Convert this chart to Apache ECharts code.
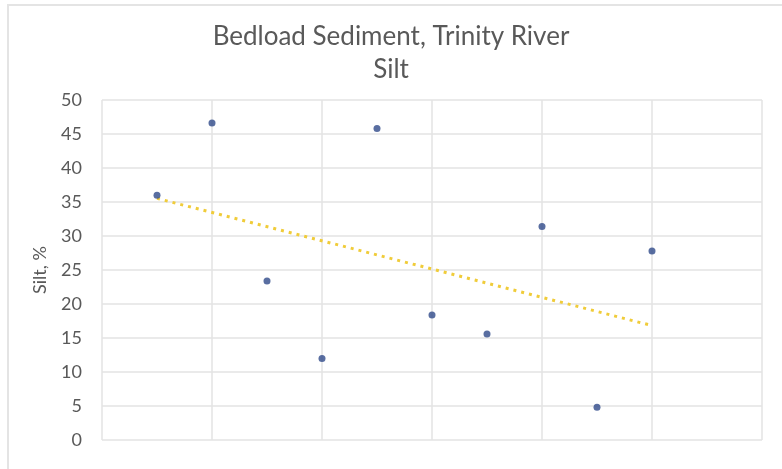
<!DOCTYPE html>
<html>
<head>
<meta charset="utf-8">
<title>Bedload Sediment, Trinity River — Silt</title>
<script src="https://cdn.jsdelivr.net/npm/echarts@6/dist/echarts.min.js"></script>
<style>
  html, body { margin: 0; padding: 0; background: #ffffff; }
  #chart { width: 782px; height: 469px; }
</style>
</head>
<body>
<div id="chart"></div>
<script>
// Sample sequence number along the river and measured silt share (%)
const sampleIndex = [1, 2, 3, 4, 5, 6, 7, 8, 9, 10];
const siltPercent = [36.0, 46.6, 23.4, 12.0, 45.8, 18.4, 15.6, 31.4, 4.8, 27.8];

// Axis ranges and tick steps
const yTicks = [0, 5, 10, 15, 20, 25, 30, 35, 40, 45, 50];
const xMin = 0, xMax = 12, xStep = 2;

// Least-squares linear trend through the samples
function linearFit(xs, ys) {
  const n = xs.length;
  const mx = xs.reduce((a, b) => a + b, 0) / n;
  const my = ys.reduce((a, b) => a + b, 0) / n;
  let sxy = 0, sxx = 0;
  for (let i = 0; i < n; i++) {
    sxy += (xs[i] - mx) * (ys[i] - my);
    sxx += (xs[i] - mx) * (xs[i] - mx);
  }
  const slope = sxy / sxx;
  return { slope, intercept: my - slope * mx };
}
const fit = linearFit(sampleIndex, siltPercent);
const xFirst = sampleIndex[0], xLast = sampleIndex[sampleIndex.length - 1];
const trendPoints = [
  [xFirst, fit.intercept + fit.slope * xFirst],
  [xLast, fit.intercept + fit.slope * xLast]
];

const textColor = '#595959';
const gridColor = '#e3e3e3';
const fontFamily = 'Lato, "Open Sans", sans-serif';

const chart = echarts.init(document.getElementById('chart'), null, { renderer: 'canvas' });
chart.setOption({
  animation: false,
  backgroundColor: '#ffffff',
  graphic: [{
    type: 'rect',
    shape: { x: 8, y: 5, width: 800, height: 500 },
    style: { fill: 'none', stroke: '#e4e4e4', lineWidth: 2 },
    silent: true
  }],
  title: [{
    text: 'Bedload Sediment, Trinity River',
    left: 'center',
    top: 19,
    textStyle: { color: textColor, fontSize: 26, fontWeight: 'normal', fontFamily }
  }, {
    text: 'Silt',
    left: 'center',
    top: 52,
    textStyle: { color: textColor, fontSize: 26, fontWeight: 'normal', fontFamily }
  }],
  grid: { left: 102, right: 20, top: 100, bottom: 29 },
  xAxis: {
    type: 'value',
    min: xMin,
    max: xMax,
    interval: xStep,
    axisLine: { show: false },
    axisTick: { show: false },
    axisLabel: { show: false },
    splitLine: { show: true, lineStyle: { color: gridColor, width: 1.5 } }
  },
  yAxis: {
    type: 'value',
    min: yTicks[0],
    max: yTicks[yTicks.length - 1],
    interval: yTicks[1] - yTicks[0],
    name: 'Silt, %',
    nameLocation: 'middle',
    nameGap: 53,
    nameTextStyle: { color: textColor, fontSize: 18, fontFamily },
    axisLine: { show: false },
    axisTick: { show: false },
    axisLabel: { color: textColor, fontSize: 18, fontFamily, margin: 20 },
    splitLine: { show: true, lineStyle: { color: gridColor, width: 1.5 } }
  },
  series: [{
    name: 'Linear trend',
    type: 'line',
    data: trendPoints,
    symbol: 'none',
    lineStyle: { color: '#f0cc3a', width: 3, type: [3, 5], cap: 'butt' },
    z: 2
  }, {
    name: 'Silt',
    type: 'scatter',
    data: sampleIndex.map((x, i) => [x, siltPercent[i]]),
    symbol: 'circle',
    symbolSize: 7,
    itemStyle: { color: '#2f4a8a' },
    z: 3
  }]
});
</script>
</body>
</html>
